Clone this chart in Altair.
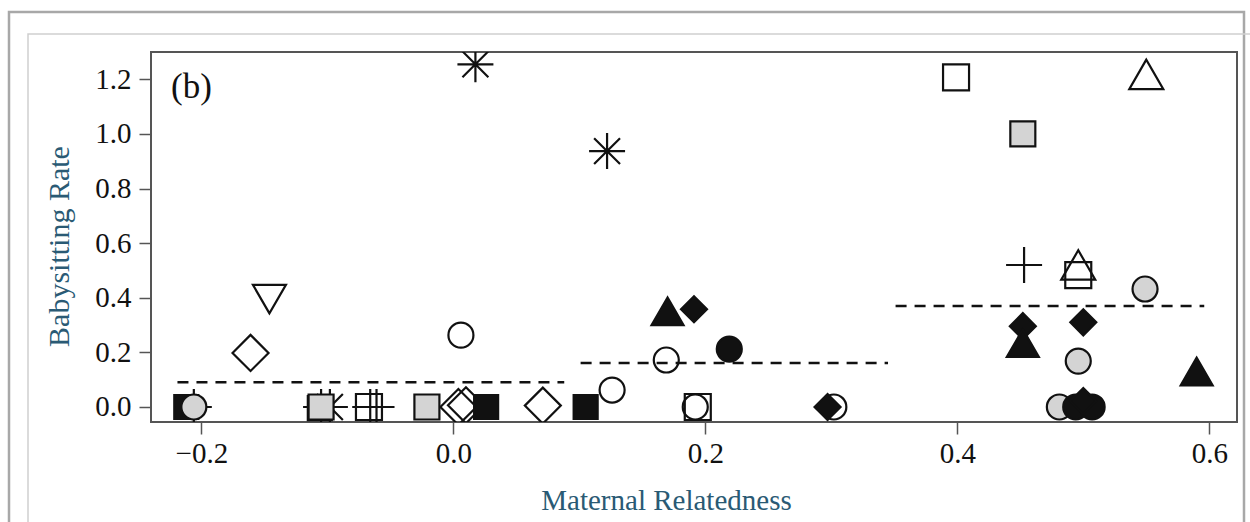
import altair as alt
import pandas as pd

# ---- data ----
kind = [
    "black_square", "plus", "gray_circle",
    "black_square", "asterisk", "plus", "gray_square",
    "open_square", "plus", "plus",
    "gray_square",
    "open_diamond", "open_diamond",
    "black_square", "open_diamond", "black_square",
    "open_circle", "open_circle", "open_circle",
    "black_tri_up", "black_diamond", "black_circle",
    "open_square", "open_circle",
    "open_circle", "black_diamond",
    "black_diamond", "black_tri_up",
    "plus", "open_tri_up", "open_square",
    "gray_circle", "black_diamond", "gray_circle", "black_tri_up",
    "gray_circle", "black_circle", "black_circle", "black_diamond",
    "open_square", "gray_square", "open_tri_up",
    "asterisk", "asterisk",
    "open_tri_down", "open_diamond",
]
mrel = [
    -0.212, -0.206, -0.206,
    -0.106, -0.098, -0.105, -0.105,
    -0.067, -0.066, -0.061,
    -0.021,
    0.004, 0.010,
    0.026, 0.071, 0.105,
    0.126, 0.006, 0.169,
    0.170, 0.191, 0.219,
    0.194, 0.192,
    0.302, 0.297,
    0.452, 0.452,
    0.453, 0.496, 0.496,
    0.549, 0.500, 0.496, 0.590,
    0.481, 0.494, 0.507, 0.500,
    0.399, 0.452, 0.550,
    0.0175, 0.122,
    -0.146, -0.161,
]
rate = [
    0.0, 0.0, 0.0,
    -0.004, 0.0, 0.0, 0.0,
    0.0, 0.0, 0.0,
    0.0,
    0.0, 0.006,
    0.0, 0.005, 0.0,
    0.062, 0.263, 0.172,
    0.350, 0.358, 0.212,
    0.0, 0.0,
    0.0, 0.0,
    0.296, 0.234,
    0.520, 0.520, 0.483,
    0.432, 0.310, 0.168, 0.130,
    0.0, 0.0, 0.0, 0.022,
    1.207, 1.000, 1.218,
    1.255, 0.937,
    0.395, 0.198,
]

# group means (dashed segments)
seg_start = [-0.219, 0.101, 0.351]
seg_end = [0.088, 0.345, 0.596]
seg_mean = [0.091, 0.161, 0.370]

x_ticks = [-0.2, 0.0, 0.2, 0.4, 0.6]
y_ticks = [0.0, 0.2, 0.4, 0.6, 0.8, 1.0, 1.2]

# ---- marker styles ----
PLUS = "M-1,0L1,0M0,-1L0,1"
AST = "M-1,0L1,0M0,-1L0,1M-0.72,-0.72L0.72,0.72M-0.72,0.72L0.72,-0.72"
DIAM = "M-1,0L0,-1L1,0L0,1Z"
GRAY = "#d4d4d4"
BLK = "#111111"
NONE = "transparent"
styles = {
    "open_circle": ("circle", NONE, 625),
    "gray_circle": ("circle", GRAY, 625),
    "black_circle": ("circle", BLK, 625),
    "open_square": ("square", NONE, 676),
    "gray_square": ("square", GRAY, 625),
    "black_square": ("square", BLK, 576),
    "open_diamond": (DIAM, NONE, 1296),
    "black_diamond": (DIAM, BLK, 676),
    "open_tri_up": ("triangle-up", NONE, 1156),
    "black_tri_up": ("triangle-up", BLK, 1024),
    "open_tri_down": ("triangle-down", NONE, 1089),
    "plus": (PLUS, NONE, 1296),
    "asterisk": (AST, NONE, 1296),
}
kinds = list(styles.keys())

pts = pd.DataFrame({"kind": kind, "mrel": mrel, "rate": rate})
pts["msize"] = [styles[k][2] for k in kind]
segs = pd.DataFrame({"x0": seg_start, "x1": seg_end, "y": seg_mean})

FONT = "Liberation Serif"
TITLE_COLOR = "#2a5a74"

xscale = alt.Scale(domain=[-0.24, 0.622], nice=False, zero=False)
yscale = alt.Scale(domain=[-0.055, 1.30], nice=False, zero=False)

xaxis = alt.Axis(values=x_ticks, format=".1f", title="Maternal Relatedness",
                 titleX=515, titleY=87, titleBaseline="alphabetic", titleAlign="center")
yaxis = alt.Axis(values=y_ticks, format=".1f", title="Babysitting Rate",
                 titleX=-83, titleY=194, titleBaseline="alphabetic", titleAlign="center",
                 titleAngle=270, titleFontSize=30)

rules = alt.Chart(segs).mark_rule(color=BLK, strokeWidth=2.5, strokeDash=[11, 8]).encode(
    x=alt.X("x0:Q", scale=xscale, axis=xaxis),
    x2="x1:Q",
    y=alt.Y("y:Q", scale=yscale, axis=yaxis),
)

points = alt.Chart(pts).mark_point(
    filled=True, stroke=BLK, strokeWidth=2.2, opacity=1, fillOpacity=1, clip=True
).encode(
    x=alt.X("mrel:Q", scale=xscale, axis=xaxis),
    y=alt.Y("rate:Q", scale=yscale, axis=yaxis),
    shape=alt.Shape("kind:N", scale=alt.Scale(domain=kinds, range=[styles[k][0] for k in kinds]), legend=None),
    fill=alt.Fill("kind:N", scale=alt.Scale(domain=kinds, range=[styles[k][1] for k in kinds]), legend=None),
    size=alt.Size("msize:Q", scale=None, legend=None),
)

one = pd.DataFrame({"a": [0]})
outer = alt.Chart(one).mark_rect(fillOpacity=0, stroke="#a8a8a8", strokeWidth=2.5).encode(
    x=alt.value(-142), x2=alt.value(1093), y=alt.value(-40), y2=alt.value(600)
)
inner = alt.Chart(one).mark_rect(fillOpacity=0, stroke="#cfcfcf", strokeWidth=1.5).encode(
    x=alt.value(-123), x2=alt.value(1120), y=alt.value(-18), y2=alt.value(600)
)
label = alt.Chart(one).mark_text(
    text="(b)", font=FONT, fontSize=35, align="left", baseline="alphabetic", color=BLK
).encode(x=alt.value(20), y=alt.value(46))

chart = alt.layer(outer, inner, rules, points, label).properties(
    width=1086, height=370,
    autosize=alt.AutoSizeParams(type="none"),
    padding={"left": 151, "top": 52, "right": 13, "bottom": 100},
).configure_view(
    stroke="#555555", strokeWidth=2
).configure_axis(
    labelFont=FONT, labelFontSize=29, labelColor=BLK,
    titleFont=FONT, titleFontSize=29, titleColor=TITLE_COLOR, titleFontWeight="normal",
    tickSize=12, tickColor="#555555", tickWidth=1.5,
    domain=False, grid=False,
).configure_axisX(labelPadding=5).configure_axisY(labelPadding=8)

chart.save("out.html", embed_options={"renderer": "svg", "actions": False})
